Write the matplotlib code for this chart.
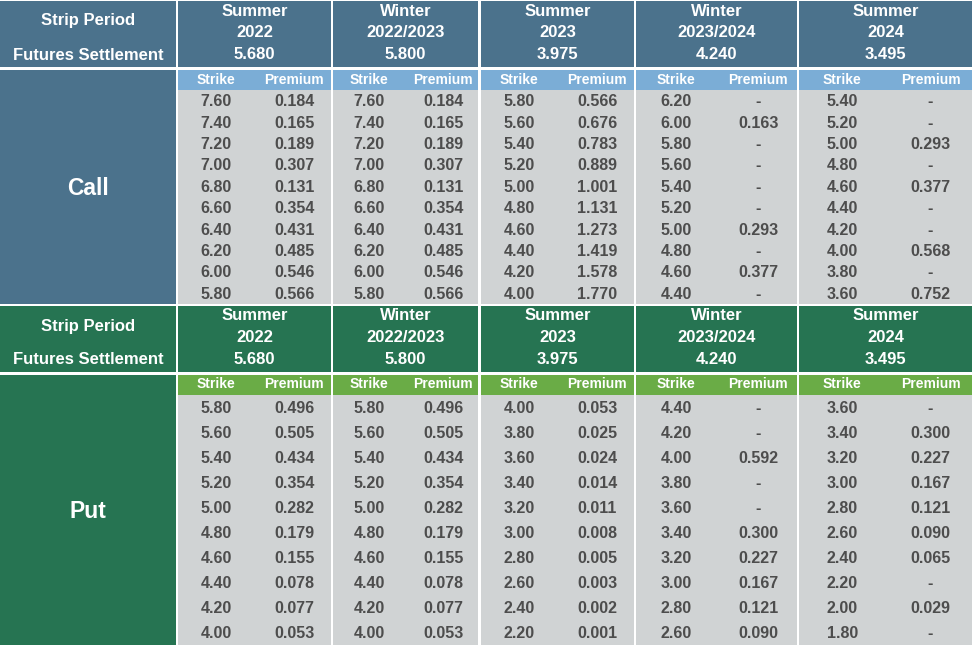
import matplotlib
matplotlib.use("Agg")
import matplotlib.pyplot as plt
from matplotlib.patches import Rectangle

matplotlib.rcParams["font.family"] = ["Liberation Sans", "DejaVu Sans"]

CALL_DARK = "#4B728C"
CALL_LIGHT = "#7BADD6"
PUT_DARK = "#267452"
PUT_LIGHT = "#6AAC46"
CELL_GREY = "#D0D3D4"
DATA_TEXT = "#4D4D4D"

SEASONS = ["Summer", "Winter", "Summer", "Winter", "Summer"]
YEARS = ["2022", "2022/2023", "2023", "2023/2024", "2024"]
SETTLEMENTS = ["5.680", "5.800", "3.975", "4.240", "3.495"]

CALL_STRIKES = [
    ["7.60", "7.40", "7.20", "7.00", "6.80", "6.60", "6.40", "6.20", "6.00", "5.80"],
    ["7.60", "7.40", "7.20", "7.00", "6.80", "6.60", "6.40", "6.20", "6.00", "5.80"],
    ["5.80", "5.60", "5.40", "5.20", "5.00", "4.80", "4.60", "4.40", "4.20", "4.00"],
    ["6.20", "6.00", "5.80", "5.60", "5.40", "5.20", "5.00", "4.80", "4.60", "4.40"],
    ["5.40", "5.20", "5.00", "4.80", "4.60", "4.40", "4.20", "4.00", "3.80", "3.60"],
]
CALL_PREMIUMS = [
    ["0.184", "0.165", "0.189", "0.307", "0.131", "0.354", "0.431", "0.485", "0.546", "0.566"],
    ["0.184", "0.165", "0.189", "0.307", "0.131", "0.354", "0.431", "0.485", "0.546", "0.566"],
    ["0.566", "0.676", "0.783", "0.889", "1.001", "1.131", "1.273", "1.419", "1.578", "1.770"],
    ["-", "0.163", "-", "-", "-", "-", "0.293", "-", "0.377", "-"],
    ["-", "-", "0.293", "-", "0.377", "-", "-", "0.568", "-", "0.752"],
]
PUT_STRIKES = [
    ["5.80", "5.60", "5.40", "5.20", "5.00", "4.80", "4.60", "4.40", "4.20", "4.00"],
    ["5.80", "5.60", "5.40", "5.20", "5.00", "4.80", "4.60", "4.40", "4.20", "4.00"],
    ["4.00", "3.80", "3.60", "3.40", "3.20", "3.00", "2.80", "2.60", "2.40", "2.20"],
    ["4.40", "4.20", "4.00", "3.80", "3.60", "3.40", "3.20", "3.00", "2.80", "2.60"],
    ["3.60", "3.40", "3.20", "3.00", "2.80", "2.60", "2.40", "2.20", "2.00", "1.80"],
]
PUT_PREMIUMS = [
    ["0.496", "0.505", "0.434", "0.354", "0.282", "0.179", "0.155", "0.078", "0.077", "0.053"],
    ["0.496", "0.505", "0.434", "0.354", "0.282", "0.179", "0.155", "0.078", "0.077", "0.053"],
    ["0.053", "0.025", "0.024", "0.014", "0.011", "0.008", "0.005", "0.003", "0.002", "0.001"],
    ["-", "-", "0.592", "-", "-", "0.300", "0.227", "0.167", "0.121", "0.090"],
    ["-", "0.300", "0.227", "0.167", "0.121", "0.090", "0.065", "-", "0.029", "-"],
]

# layout in pixels
LABEL_COL = (0, 176)
GROUP_COLS = [(178, 331), (333, 478), (481, 634), (636, 797), (799, 972)]

HEAD_FS = 12
DATA_FS = 11.5


def draw_block(ax, top, head_h, sub_h, data_h, dark, light, label, strikes, premiums):
    n_rows = len(strikes[0])
    row_h = data_h / n_rows
    sub_top = top + head_h + 2.5
    data_top = sub_top + sub_h

    # header row, left cell
    x0, x1 = LABEL_COL
    ax.add_patch(Rectangle((x0, top), x1 - x0, head_h, color=dark, lw=0))
    cx = (x0 + x1) / 2
    ax.text(cx, top + 20, "Strip Period", ha="center", va="center",
            color="white", fontsize=HEAD_FS, fontweight="bold")
    ax.text(cx, top + 54, "Futures Settlement", ha="center", va="center",
            color="white", fontsize=HEAD_FS, fontweight="bold")

    # Call / Put label cell
    ax.add_patch(Rectangle((x0, sub_top), x1 - x0, sub_h + data_h, color=dark, lw=0))
    ax.text(cx, sub_top + (sub_h + data_h) * 0.5 + 2, label, ha="center", va="center",
            color="white", fontsize=16.5, fontweight="bold")

    for g, (gx0, gx1) in enumerate(GROUP_COLS):
        w = gx1 - gx0
        gc = (gx0 + gx1) / 2
        ax.add_patch(Rectangle((gx0, top), w, head_h, color=dark, lw=0))
        ax.text(gc, top + 10, SEASONS[g], ha="center", va="center",
                color="white", fontsize=HEAD_FS, fontweight="bold")
        ax.text(gc, top + 31.5, YEARS[g], ha="center", va="center",
                color="white", fontsize=HEAD_FS, fontweight="bold")
        ax.text(gc, top + 53.5, SETTLEMENTS[g], ha="center", va="center",
                color="white", fontsize=HEAD_FS, fontweight="bold")

        xs = gx0 + w * 0.25
        xp = gx0 + w * 0.76
        ax.add_patch(Rectangle((gx0, sub_top), w, sub_h, color=light, lw=0))
        ax.text(xs, sub_top + sub_h / 2, "Strike", ha="center", va="center",
                color="white", fontsize=10, fontweight="bold")
        ax.text(xp, sub_top + sub_h / 2, "Premium", ha="center", va="center",
                color="white", fontsize=10, fontweight="bold")

        ax.add_patch(Rectangle((gx0, data_top), w, data_h, color=CELL_GREY, lw=0))
        for i in range(n_rows):
            y = data_top + row_h * (i + 0.5) + 1.5
            ax.text(xs, y, strikes[g][i], ha="center", va="center",
                    color=DATA_TEXT, fontsize=DATA_FS, fontweight="bold")
            ax.text(xp, y, premiums[g][i], ha="center", va="center",
                    color=DATA_TEXT, fontsize=DATA_FS, fontweight="bold")


def main():
    fig = plt.figure(figsize=(9.75, 6.47), dpi=100)
    fig.patch.set_facecolor("white")
    ax = fig.add_axes([0, 0, 1, 1])
    ax.set_xlim(0, 975)
    ax.set_ylim(647, 0)
    ax.axis("off")

    draw_block(ax, 1, 66, 20, 214, CALL_DARK, CALL_LIGHT, "Call",
               CALL_STRIKES, CALL_PREMIUMS)
    draw_block(ax, 306, 66, 20, 250, PUT_DARK, PUT_LIGHT, "Put",
               PUT_STRIKES, PUT_PREMIUMS)

    fig.savefig("out.png", dpi=100, facecolor="white")
    plt.close(fig)


if __name__ == "__main__":
    main()
